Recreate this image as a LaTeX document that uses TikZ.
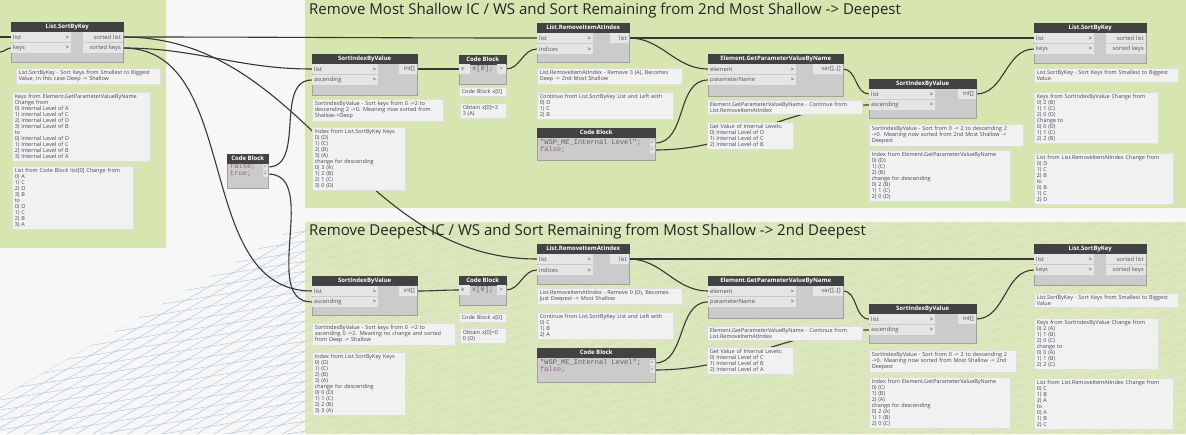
\documentclass[tikz,border=0pt]{standalone}
\usepackage{fontspec}
\setmainfont{Open Sans}
\setmonofont{Liberation Mono}
\definecolor{bgc}{RGB}{247,247,247}
\definecolor{grpc}{RGB}{215,229,176}
\definecolor{gridc}{RGB}{170,194,218}
\definecolor{hdrc}{RGB}{66,66,66}
\definecolor{bodyc}{RGB}{203,203,203}
\definecolor{bodyd}{RGB}{160,160,160}
\definecolor{rowc}{RGB}{229,229,229}
\definecolor{portc}{RGB}{80,80,80}
\definecolor{chevc}{RGB}{110,110,110}
\definecolor{notec}{RGB}{241,241,241}
\definecolor{noted}{RGB}{222,222,222}
\definecolor{notet}{RGB}{70,70,85}
\definecolor{wirec}{RGB}{55,55,55}
\definecolor{kwc}{RGB}{150,95,140}
\definecolor{strc}{RGB}{105,95,90}
\definecolor{titlec}{RGB}{35,35,35}
\pgfdeclarelayer{back}
\pgfdeclarelayer{wirel}
\pgfsetlayers{back,wirel,main}
\tikzset{
  wire/.style={draw=wirec, line width=1.1pt},
  gridl/.style={draw=gridc, line width=0.4pt},
  dhead/.style={fill=hdrc, draw=hdrc, text=white, font=\fontsize{6}{7}\selectfont\bfseries, minimum height=9pt, inner sep=0pt},
  dbody/.style={fill=bodyc, draw=bodyd, line width=0.4pt, inner sep=0pt},
  drow/.style={fill=rowc, font=\fontsize{5.8}{6.5}\selectfont, text=portc, minimum height=10pt, inner xsep=2pt, inner ysep=0pt},
  dcell/.style={fill=rowc, font=\fontsize{5.6}{6.5}\selectfont, text=chevc, minimum height=6pt, inner xsep=1pt, inner ysep=0pt},
  dnote/.style={fill=notec, draw=noted, line width=0.5pt, font=\fontsize{5.5}{6}\selectfont, text=notet, align=left, inner xsep=2.5pt, inner ysep=2pt, anchor=north west},
  kw/.style={font=\fontsize{7}{7}\selectfont\ttfamily, text=kwc, inner sep=0pt, anchor=west},
  strt/.style={font=\fontsize{7}{7}\selectfont\ttfamily, text=strc, inner sep=0pt, anchor=west},
  gtitle/.style={font=\fontsize{15}{17}\selectfont, text=titlec, inner sep=0pt, anchor=base west},
}
\newcommand{\dnode}[6]{%
  \node[dbody, anchor=north west, minimum width=#4pt, minimum height=#5pt] (#1) at (#2,#3) {};
  \node[dhead, anchor=north west, minimum width=#4pt] (#1-h) at (#2,#3) {#6};}
\newcommand{\din}[5]{%
  \node[drow, anchor=west, text width=\the\numexpr#4-4\relax pt, align=left] (#1) at (#2,#3) {#5\hfill\textcolor{chevc}{\textbf{\textgreater}}};}
\newcommand{\dout}[5]{%
  \node[drow, anchor=east, text width=\the\numexpr#4-4\relax pt, align=right] (#1) at (#2,#3) {#5};}
\newcommand{\dnotebox}[5]{%
  \node[dnote, text width=\the\numexpr#4-5\relax pt] (#1) at (#2,#3) {#5};}
\begin{document}
\begin{tikzpicture}[x=1pt,y=-1pt]
\useasboundingbox (0,0) rectangle (1186,434);
\begin{pgfonlayer}{back}
\fill[bgc] (0,0) rectangle (1186,434);
\begin{scope}
\clip (0,398) -- (303,223) -- (1186,223) -- (1186,434) -- (0,434) -- cycle;
\foreach \k in {0,...,75} {\draw[gridl] (0,398+10*\k) -- ++(1186,-688);}
\foreach \c in {-100,-90,...,650} {\draw[gridl] (0,\c) -- ++(1186,-190);}
\end{scope}
\fill[grpc] (0,0) rectangle (166,248);
\fill[grpc] (305,0) rectangle (1186,208);
\fill[grpc, fill opacity=0.84] (305,222) rectangle (1186,434);
\end{pgfonlayer}

\node[gtitle] (t1) at (309,14) {Remove Most Shallow IC / WS and Sort Remaining from 2nd Most Shallow -> Deepest};
\node[gtitle] (t2) at (309,235.5) {Remove Deepest IC / WS and Sort Remaining from Most Shallow -> 2nd Deepest};

% ---- left group
\dnode{A}{11}{22}{112}{40}{List.SortByKey}
\din{A-i1}{11}{37}{60}{list}
\din{A-i2}{11}{48}{60}{keys}
\dout{A-o1}{123}{37}{40}{sorted list}
\dout{A-o2}{123}{48}{40}{sorted keys}
\coordinate (L1) at (0,37);
\coordinate (L2) at (0,52);

\dnode{I}{227}{154}{41}{34}{Code Block}
\node[kw] (I-c1) at (230,167) {false;};
\node[kw] (I-c2) at (230,174) {true;};
\node[dcell, anchor=east] (I-o1) at (268,167) {\textgreater};
\node[dcell, anchor=east] (I-o2) at (268,174) {\textgreater};

% ---- top row
\dnode{B}{312}{54}{105}{41}{SortIndexByValue}
\din{B-i1}{312}{69}{66}{list}
\din{B-i2}{312}{80}{66}{ascending}
\dout{B-o1}{417}{69}{18}{int[]}

\dnode{C}{459}{55}{47}{29}{Code Block}
\node[drow, anchor=west, text width=7pt] (C-i1) at (459,69) {x};
\node[strt] (C-c1) at (472,69) {x[0];};
\node[drow, anchor=east, text width=5pt, align=center] (C-o1) at (506,69) {\textgreater};

\dnode{D}{537}{23}{92}{39}{List.RemoveItemAtIndex}
\din{D-i1}{537}{38}{56}{list}
\din{D-i2}{537}{49}{56}{indices}
\dout{D-o1}{629}{38}{19}{list}

\dnode{E}{537}{128}{118}{32}{Code Block}
\node[strt] (E-c1) at (540,143) {"WSP\_ME\_Internal Level";};
\node[kw] (E-c2) at (540,150) {false;};
\node[dcell, anchor=east] (E-o1) at (655,143) {\textgreater};
\node[dcell, anchor=east] (E-o2) at (655,150) {\textgreater};

\dnode{F}{708}{54}{135}{42}{Element.GetParameterValueByName}
\din{F-i1}{708}{69}{88}{element}
\din{F-i2}{708}{80}{88}{parameterName}
\dout{F-o1}{843}{69}{30}{var[]..[]}

\dnode{G}{869}{79}{107}{39}{SortIndexByValue}
\din{G-i1}{869}{94}{66}{list}
\din{G-i2}{869}{105}{66}{ascending}
\dout{G-o1}{976}{94}{18}{int[]}

\dnode{H}{1034}{23}{112}{40}{List.SortByKey}
\din{H-i1}{1034}{38}{60}{list}
\din{H-i2}{1034}{49}{60}{keys}
\dout{H-o1}{1146}{38}{40}{sorted list}
\dout{H-o2}{1146}{49}{40}{sorted keys}

% ---- lower row
\dnode{B2}{312}{276}{105}{39}{SortIndexByValue}
\din{B2-i1}{312}{291}{66}{list}
\din{B2-i2}{312}{302}{66}{ascending}
\dout{B2-o1}{417}{291}{18}{int[]}

\dnode{C2}{459}{276}{47}{29}{Code Block}
\node[drow, anchor=west, text width=7pt] (C2-i1) at (459,290) {x};
\node[strt] (C2-c1) at (472,290) {x[0];};
\node[drow, anchor=east, text width=5pt, align=center] (C2-o1) at (506,290) {\textgreater};

\dnode{D2}{537}{244}{92}{40}{List.RemoveItemAtIndex}
\din{D2-i1}{537}{259}{56}{list}
\din{D2-i2}{537}{270}{56}{indices}
\dout{D2-o1}{629}{259}{19}{list}

\dnode{E2}{537}{348}{118}{34}{Code Block}
\node[strt] (E2-c1) at (540,363) {"WSP\_ME\_Internal Level";};
\node[kw] (E2-c2) at (540,370) {false;};
\node[dcell, anchor=east] (E2-o1) at (655,363) {\textgreater};
\node[dcell, anchor=east] (E2-o2) at (655,370) {\textgreater};

\dnode{F2}{708}{276}{135}{42}{Element.GetParameterValueByName}
\din{F2-i1}{708}{291}{88}{element}
\din{F2-i2}{708}{302}{88}{parameterName}
\dout{F2-o1}{843}{291}{30}{var[]..[]}

\dnode{G2}{869}{304}{107}{39}{SortIndexByValue}
\din{G2-i1}{869}{319}{66}{list}
\din{G2-i2}{869}{330}{66}{ascending}
\dout{G2-o1}{976}{319}{18}{int[]}

\dnode{H2}{1034}{244}{112}{41}{List.SortByKey}
\din{H2-i1}{1034}{259}{60}{list}
\din{H2-i2}{1034}{270}{60}{keys}
\dout{H2-o1}{1146}{259}{40}{sorted list}
\dout{H2-o2}{1146}{270}{40}{sorted keys}

% ---- wires
\begin{pgfonlayer}{wirel}
\draw[wire] (L1) -- (A-i1.west);
\draw[wire] (L2) to[out=0,in=180] (A-i2.west);
\draw[wire] (A-o1.east) to[out=0,in=180] (D-i1.west);
\draw[wire] (A-o1.east) to[out=0,in=180] (D2-i1.west);
\draw[wire] (A-o2.east) to[out=0,in=180] (B-i1.west);
\draw[wire] (A-o2.east) to[out=0,in=180] (B2-i1.west);
\draw[wire] (I-o1.east) to[out=0,in=180] (B-i2.west);
\draw[wire] (I-o2.east) to[out=0,in=180] (B2-i2.west);
\draw[wire] (B-o1.east) to[out=0,in=180] (C-i1.west);
\draw[wire] (C-o1.east) to[out=0,in=180] (D-i2.west);
\draw[wire] (D-o1.east) to[out=0,in=180] (F-i1.west);
\draw[wire] (D-o1.east) to[out=0,in=180] (H-i1.west);
\draw[wire] (E-o1.east) to[out=0,in=180] (F-i2.west);
\draw[wire] (E-o2.east) to[out=0,in=180] (G-i2.west);
\draw[wire] (F-o1.east) to[out=0,in=180] (G-i1.west);
\draw[wire] (G-o1.east) to[out=0,in=180] (H-i2.west);
\draw[wire] (B2-o1.east) to[out=0,in=180] (C2-i1.west);
\draw[wire] (C2-o1.east) to[out=0,in=180] (D2-i2.west);
\draw[wire] (D2-o1.east) to[out=0,in=180] (F2-i1.west);
\draw[wire] (D2-o1.east) to[out=0,in=180] (H2-i1.west);
\draw[wire] (E2-o1.east) to[out=0,in=180] (F2-i2.west);
\draw[wire] (E2-o2.east) to[out=0,in=180] (G2-i2.west);
\draw[wire] (F2-o1.east) to[out=0,in=180] (G2-i1.west);
\draw[wire] (G2-o1.east) to[out=0,in=180] (H2-i2.west);
\end{pgfonlayer}

% ---- notes
\dnotebox{n1}{16}{68}{144}{List.SortByKey - Sort Keys from Smallest to Biggest\\Value, In this case Deep -> Shallow}
\dnotebox{n2}{12}{92}{138}{Keys from Element.GetParameterValueByName\\Change from\\0) Internal Level of A\\1) Internal Level of C\\2) Internal Level of D\\3) Internal Level of B\\to\\0) Internal Level of D\\1) Internal Level of C\\2) Internal Level of B\\3) Internal Level of A}
\dnotebox{n3}{12}{166}{121}{List from Code Block list[0] Change from\\0) A\\1) C\\2) D\\3) B\\to\\0) D\\1) C\\2) B\\3) A}

\dnotebox{n4}{312}{99}{131}{SortIndexByValue - Sort keys from 0 ->2 to\\descending 2 ->0. Meaning now sorted from\\Shallow->Deep}
\dnotebox{n5}{312}{127}{93}{Index from List.SortByKey Keys\\0) (D)\\1) (C)\\2) (B)\\3) (A)\\change for descending\\0) 3 (A)\\1) 2 (B)\\2) 1 (C)\\3) 0 (D)}
\dnotebox{n6}{459}{87}{47}{Code Block x[0]}
\dnotebox{n7}{460}{103}{46}{Obtain x[0]=3\\3 (A)}
\dnotebox{n8}{537}{68}{145}{List.RemoveItemAtIndex - Remove 3 (A), Becomes\\Deep -> 2nd Most Shallow}
\dnotebox{n9}{537}{92}{136}{Continue from List.SortByKey List and Left with\\0) D\\1) C\\2) B}
\dnotebox{n10}{707}{100}{155}{Element.GetParameterValueByName - Continue from\\List.RemoveItemAtIndex}
\dnotebox{n11}{707}{122}{86}{Get Value of Internal Levels:\\0) Internal Level of D\\1) Internal Level of C\\2) Internal Level of B}
\dnotebox{n12}{869}{124}{154}{SortIndexByValue - Sort from 0 -> 2 to descending 2\\->0. Meaning now sorted from 2nd Most Shallow ->\\Deepest}
\dnotebox{n13}{869}{150}{141}{Index from Element.GetParameterValueByName\\0) (D)\\1) (C)\\2) (B)\\change for descending\\0) 2 (B)\\1) 1 (C)\\2) 0 (D)}
\dnotebox{n14}{1034}{68}{144}{List.SortByKey - Sort Keys from Smallest to Biggest\\Value.}
\dnotebox{n15}{1034}{92}{124}{Keys from SortIndexByValue Change from\\0) 2 (B)\\1) 1 (C)\\2) 0 (D)\\Change to\\0) 0 (D)\\1) 1 (C)\\2) 2 (B)}
\dnotebox{n16}{1034}{153}{139}{List from List.RemoveItemAtIndex Change from\\0) D\\1) C\\2) B\\to\\0) B\\1) C\\2) D}

\dnotebox{n17}{312}{323}{143}{SortIndexByValue - Sort keys from 0 ->2 to\\ascending 0 ->2. Meaning no change and sorted\\from Deep -> Shallow}
\dnotebox{n18}{312}{352}{93}{Index from List.SortByKey Keys\\0) (D)\\1) (C)\\2) (B)\\3) (A)\\change for descending\\0) 0 (D)\\1) 1 (C)\\2) 2 (B)\\3) 3 (A)}
\dnotebox{n19}{459}{313}{47}{Code Block x[0]}
\dnotebox{n20}{460}{328}{46}{Obtain x[0]=0\\0 (D)}
\dnotebox{n21}{537}{288}{145}{List.RemoveItemAtIndex - Remove 0 (D), Becomes\\Just Deepest -> Most Shallow}
\dnotebox{n22}{537}{312}{136}{Continue from List.SortByKey List and Left with\\0) C\\1) B\\2) A}
\dnotebox{n23}{707}{326}{155}{Element.GetParameterValueByName - Continue from\\List.RemoveItemAtIndex}
\dnotebox{n24}{707}{347}{86}{Get Value of Internal Levels:\\0) Internal Level of C\\1) Internal Level of B\\2) Internal Level of A}
\dnotebox{n25}{869}{350}{147}{SortIndexByValue - Sort from 0 -> 2 to descending 2\\->0. Meaning now sorted from Most Shallow -> 2nd\\Deepest}
\dnotebox{n26}{869}{377}{141}{Index from Element.GetParameterValueByName\\0) (C)\\1) (B)\\2) (A)\\change for descending\\0) 2 (A)\\1) 1 (B)\\2) 0 (C)}
\dnotebox{n27}{1034}{293}{144}{List.SortByKey - Sort Keys from Smallest to Biggest\\Value}
\dnotebox{n28}{1034}{318}{124}{Keys from SortIndexByValue Change from\\0) 2 (A)\\1) 1 (B)\\2) 0 (C)\\change to\\0) 0 (A)\\1) 1 (B)\\2) 2 (C)}
\dnotebox{n29}{1034}{378}{139}{List from List.RemoveItemAtIndex Change from\\0) C\\1) B\\2) A\\to\\0) A\\1) B\\2) C}
\end{tikzpicture}
\end{document}
